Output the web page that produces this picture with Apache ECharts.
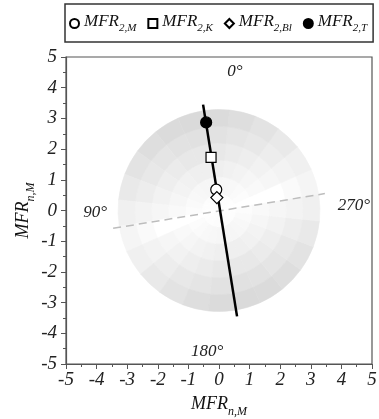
<!DOCTYPE html>
<html><head><meta charset="utf-8">
<script src="https://cdn.jsdelivr.net/npm/echarts/dist/echarts.min.js"></script>
<style>html,body{margin:0;padding:0;background:#fff}#c{width:379px;height:419px}</style>
</head><body><div id="c"></div>
<script>
// ---- data ----
const axisTicks = [-5, -4, -3, -2, -1, 0, 1, 2, 3, 4, 5];
const seriesNames = ['MFR_2,M', 'MFR_2,K', 'MFR_2,Bl', 'MFR_2,T'];
const markerX = [-0.09, -0.26, -0.07, -0.42];
const markerY = [0.68, 1.73, 0.42, 2.87];
const solidLineX = [-0.52, 0.59];
const solidLineY = [3.45, -3.45];
const dashedLineX = [-3.46, 3.46];
const dashedLineY = [-0.58, 0.55];
const angleLabelText = ['0°', '90°', '180°', '270°'];
const angleLabelX = [0.52, -4.05, -0.39, 4.41];
const angleLabelY = [4.53, -0.07, -4.6, 0.16];
// shaded disk: sector start angles (deg, counter-clockwise from +x), ring edges, gray level per sector/ring
const sectorStartDeg = [9, 24, 39, 54, 69, 84, 99, 114, 129, 144, 159, 174, 189, 204, 219, 234, 249, 264, 279, 294, 309, 324, 339, 354];
const sectorWidthDeg = 15;
const ringEdges = [0, 0.55, 1.1, 1.65, 2.2, 2.75, 3.3];
const grayLevels = [
  [255, 255, 255, 255, 250, 245],
  [254, 252, 249, 246, 243, 240],
  [253, 250, 246, 242, 237, 233],
  [253, 248, 243, 238, 232, 227],
  [252, 247, 241, 235, 229, 222],
  [252, 246, 239, 232, 226, 219],
  [252, 246, 239, 232, 225, 218],
  [252, 246, 239, 232, 226, 219],
  [252, 247, 241, 235, 229, 222],
  [253, 248, 243, 238, 232, 227],
  [253, 250, 246, 242, 237, 233],
  [254, 252, 249, 246, 243, 240],
  [255, 255, 255, 255, 250, 245],
  [254, 252, 249, 246, 243, 240],
  [253, 250, 246, 242, 237, 233],
  [253, 248, 243, 238, 232, 227],
  [252, 247, 241, 235, 229, 222],
  [252, 246, 239, 232, 226, 219],
  [252, 246, 239, 232, 225, 218],
  [252, 246, 239, 232, 226, 219],
  [252, 247, 241, 235, 229, 222],
  [253, 248, 243, 238, 232, 227],
  [253, 250, 246, 242, 237, 233],
  [254, 252, 249, 246, 243, 240]
];
// ---- build ----
const FONT = 'Liberation Serif';
const cells = [];
sectorStartDeg.forEach((a, i) => {
  for (let j = 0; j < ringEdges.length - 1; j++) {
    cells.push([a, a + sectorWidthDeg, ringEdges[j], ringEdges[j + 1], grayLevels[i][j]]);
  }
});
const makeRich = (big, small, drop) => ({
  a: { fontFamily: FONT, fontStyle: 'italic', fontSize: big, color: '#111', padding: [0, 0, drop, 0] },
  b: { fontFamily: FONT, fontStyle: 'italic', fontSize: small, color: '#111', verticalAlign: 'bottom' }
});
const subName = (main, sub) => `{a|${main}}{b|${sub}}`;
const markerStyles = [
  { symbol: 'circle', size: 11, color: '#fff' },
  { symbol: 'rect', size: 10, color: '#fff' },
  { symbol: 'diamond', size: 12, color: '#fff' },
  { symbol: 'circle', size: 11, color: '#000' }
];
const axisCommon = (isX) => ({
  type: 'value', min: axisTicks[0], max: axisTicks[axisTicks.length - 1], interval: 1,
  name: subName('MFR', 'n,M'), nameLocation: 'middle', nameGap: isX ? 31 : 29, nameMoveOverlap: false,
  nameTextStyle: { rich: makeRich(18, 12, 5) },
  axisLine: { show: true, onZero: false, lineStyle: { color: '#555', width: 1.2 } },
  axisTick: { show: true, inside: false, length: 5, lineStyle: { color: '#555', width: 1 } },
  minorTick: { show: true, splitNumber: 2, length: 3, lineStyle: { color: '#555', width: 1 } },
  splitLine: { show: false }, minorSplitLine: { show: false },
  axisLabel: { fontFamily: FONT, fontStyle: 'italic', fontSize: 19, color: '#222', margin: isX ? 6 : 9,
    showMinLabel: true, showMaxLabel: true },
});
const series = [
  {
    type: 'custom', name: 'disk', silent: true, z: 1, clip: false,
    data: cells, encode: { x: 2, y: 3 },
    renderItem: (params, api) => {
      const c = api.coord([0, 0]);
      const r0 = api.size([api.value(2), 0])[0];
      const r1 = api.size([api.value(3), 0])[0];
      const a0 = api.value(0) * Math.PI / 180, a1 = api.value(1) * Math.PI / 180;
      const g = api.value(4);
      const col = `rgb(${g},${g},${g})`;
      return { type: 'sector', shape: { cx: c[0], cy: c[1], r0: r0, r: r1, startAngle: -a1, endAngle: -a0, clockwise: true },
        style: { fill: col, stroke: col, lineWidth: 0.6 } };
    }
  },
  {
    type: 'line', name: 'dashed', silent: true, z: 3, symbol: 'none',
    data: dashedLineX.map((x, i) => [x, dashedLineY[i]]),
    lineStyle: { color: '#bdbdbd', width: 1.5, type: [8, 5] }
  },
  {
    type: 'line', name: 'solid', silent: true, z: 4, symbol: 'none',
    data: solidLineX.map((x, i) => [x, solidLineY[i]]),
    lineStyle: { color: '#000', width: 2.5 }
  },
  {
    type: 'scatter', name: 'angles', silent: true, z: 5, symbolSize: 0.1,
    itemStyle: { opacity: 1, color: 'transparent' },
    data: angleLabelX.map((x, i) => ({ value: [x, angleLabelY[i]], name: angleLabelText[i] })),
    label: { show: true, position: 'inside', formatter: p => p.name, fontFamily: FONT, fontStyle: 'italic', fontSize: 17, color: '#222' }
  }
];
seriesNames.forEach((n, i) => {
  series.push({
    type: 'scatter', name: n, z: 10 + i, symbol: markerStyles[i].symbol, symbolSize: markerStyles[i].size,
    data: [[markerX[i], markerY[i]]],
    itemStyle: { color: markerStyles[i].color, borderColor: '#000', borderWidth: 1.2, opacity: 1 }
  });
});
const chart = echarts.init(document.getElementById('c'), null, { renderer: 'canvas' });
chart.setOption({
  animation: false,
  backgroundColor: '#fff',
  grid: { left: 66, right: 7, top: 57, bottom: 55, show: true, borderColor: '#555', borderWidth: 1.2, outerBoundsMode: 'none', containLabel: false },
  legend: {
    data: seriesNames, left: 65, top: 4, orient: 'horizontal',
    borderColor: '#333', borderWidth: 1.5, padding: [9, 6, 8, 4], itemGap: 11, itemWidth: 9, itemHeight: 9,
    formatter: n => subName('MFR', n.split('_')[1]),
    textStyle: { rich: makeRich(17, 11, 4) }
  },
  xAxis: axisCommon(true),
  yAxis: axisCommon(false),
  series: series
});
</script></body></html>
